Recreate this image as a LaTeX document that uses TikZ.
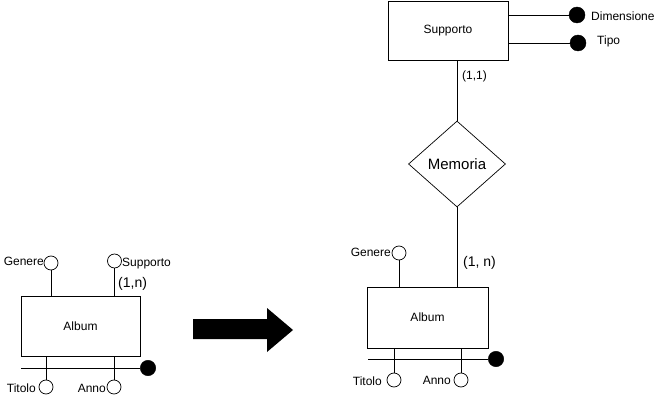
\documentclass[tikz,border=0pt]{standalone}
\usepackage{fontspec}
\setmainfont{Liberation Sans}
\usetikzlibrary{shapes.geometric}
\begin{document}
\begin{tikzpicture}[x=1pt,y=-1pt,
  entity/.style={draw,line width=0.8pt,rectangle,minimum width=#1,minimum height=60pt,inner sep=0pt,font=\fontsize{12}{14}\selectfont},
  attr/.style={draw,line width=0.7pt,circle,minimum size=14pt,inner sep=0pt,fill=white},
  ident/.style={draw,circle,minimum size=15.5pt,inner sep=0pt,fill=black},
  lbl/.style={inner sep=0pt,font=\fontsize{12}{14}\selectfont},
  card/.style={inner sep=0pt,font=\fontsize{14}{16}\selectfont},
  conn/.style={line width=0.8pt}]
\useasboundingbox (0,0) rectangle (670,401);

% ---------- left Album ----------
\node[entity=119pt] (albA) at (80.5,326) {Album};
\node[attr] (genA) at (51,263) {};
\node[lbl,anchor=east] (genAl) at (44,261) {Genere};
\node[attr] (supA) at (114.5,261) {};
\node[lbl,anchor=west] (supAl) at (122,264) {Supporto};
\node[card,anchor=west] (cardA) at (118,284) {(1,n)};
\node[attr] (titA) at (46,387) {};
\node[lbl,anchor=east] (titAl) at (36,388) {Titolo};
\node[attr] (annA) at (114,387) {};
\node[lbl,anchor=east] (annAl) at (106,388) {Anno};
\node[ident] (idA) at (148,368) {};
\coordinate (idAs) at (21,368);

\draw[conn] (genA.south) -- (genA.south |- albA.north);
\draw[conn] (supA.south) -- (supA.south |- albA.north);
\draw[conn] (titA.north) -- (titA.north |- albA.south);
\draw[conn] (annA.north) -- (annA.north |- albA.south);
\draw[conn] (idAs) -- (idA.west);

% ---------- arrow ----------
\fill (193,319) -- (267,319) -- (267,308) -- (293,330) -- (267,352) -- (267,339) -- (193,339) -- cycle;

% ---------- right Album ----------
\node[entity=121pt,minimum height=61pt] (albB) at (427.5,317.5) {Album};
\node[attr] (genB) at (399,253) {};
\node[lbl,anchor=east] (genBl) at (391,252) {Genere};
\node[card,anchor=west] (cardB) at (463,263) {(1, n)};
\node[attr] (titB) at (394,380) {};
\node[lbl,anchor=east] (titBl) at (382,381) {Titolo};
\node[attr] (annB) at (461,380) {};
\node[lbl,anchor=east] (annBl) at (451,380) {Anno};
\node[ident] (idB) at (496,359) {};
\coordinate (idBs) at (368,359);

\draw[conn] (genB.south) -- (genB.south |- albB.north);
\draw[conn] (titB.north) -- (titB.north |- albB.south);
\draw[conn] (annB.north) -- (annB.north |- albB.south);
\draw[conn] (idBs) -- (idB.west);

% ---------- Memoria ----------
\node[draw,line width=0.7pt,diamond,aspect=1.13,minimum width=97pt,minimum height=86pt,inner sep=0pt,font=\fontsize{15}{17}\selectfont] (mem) at (457,164) {Memoria};
\draw[conn] (mem.south) -- (mem.south |- albB.north);

% ---------- Supporto ----------
\node[entity=120pt,minimum height=59pt] (sup) at (448,30.5) {Supporto};
\draw[conn] (mem.north) -- (mem.north |- sup.south);
\node[lbl,anchor=west] (cardS) at (462,76) {(1,1)};
\node[ident,minimum size=16pt] (dim) at (577,15) {};
\node[lbl,anchor=west] (diml) at (591,16) {Dimensione};
\node[ident,minimum size=16pt] (tip) at (578,43) {};
\node[lbl,anchor=west] (tipl) at (597,41) {Tipo};
\draw[conn] (dim.west -| sup.east) -- (dim.west);
\draw[conn] (tip.west -| sup.east) -- (tip.west);
\end{tikzpicture}
\end{document}
